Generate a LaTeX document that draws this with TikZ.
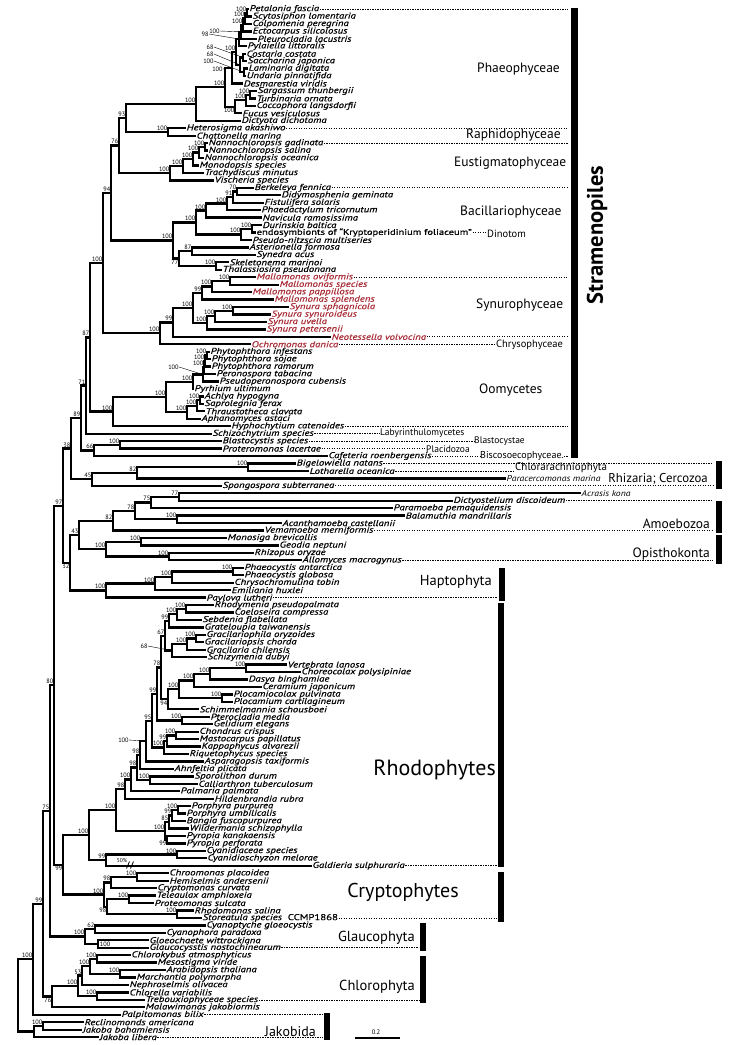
\documentclass[tikz,border=0pt]{standalone}
\usepackage{fontspec}
\setmainfont{PT Sans}
\newfontfamily\lfont{PT Sans}[FakeBold=0.6,FakeStretch=1.27]
\newfontfamily\tfont{PT Sans}[FakeStretch=1.14]
\usetikzlibrary{calc}
\definecolor{synred}{RGB}{168,44,54}
\tikzset{
  br/.style={line width=2.3bp},
  leaf/.style={anchor=west,inner sep=0.5bp,font=\fontsize{8.5bp}{8.5bp}\lfont\itshape},
  thin/.style={font=\fontsize{8.5bp}{8.5bp}\tfont\itshape},
  bs/.style={inner sep=0.2bp,font=\fontsize{6.3bp}{6.3bp}\selectfont},
  lb/.style={anchor=north east,xshift=-0.3bp,yshift=-1.1bp},
  ldr/.style={line width=0.4bp},
  dotl/.style={line width=0.7bp,dash pattern=on 1.2bp off 1.3bp},
  grp/.style={inner sep=0pt,font=\fontsize{13.5bp}{13.5bp}\selectfont},
  sgrp/.style={inner sep=0pt,font=\fontsize{9.5bp}{9.5bp}\selectfont},
  mgrp/.style={inner sep=0pt,font=\fontsize{10.5bp}{10.5bp}\selectfont},
}
\newcommand\lf[5][]{\node[leaf,#1] (#2) at (#3,{9+7.45*#4}) {#5};}
\newcommand\J[6][anchor=south east,xshift=-0.3bp,yshift=1.1bp]{%
  \path let \p1=($(#4)!.5!(#5)$) in (#3bp,\y1) coordinate (#2);
  \draw[br] (#4) -| (#2) |- (#5);
  \node[bs,#1] at (#2) {#6};}
\newcommand\dl[2]{\draw[dotl] (#1.east) -- (#1.east -| #2);}
\begin{document}
\begin{tikzpicture}[x=1bp,y=-1bp]
\useasboundingbox (0,0) rectangle (731,1045);
% ---------------- leaves
\lf{L0}{249}{0}{Petalonia fascia}
\lf{L1}{252}{1}{Scytosiphon lomentaria}
\lf{L2}{252}{2}{Colpomenia peregrina}
\lf{L3}{252}{3}{Ectocarpus silicolosus}
\lf{L4}{257}{4}{Pleurocladia lacustris}
\lf{L5}{247}{5}{Pylaiella littoralis}
\lf{L6}{246}{6}{Costaria costata}
\lf{L7}{247}{7}{Saccharina japonica}
\lf{L8}{248}{8}{Laminaria digitata}
\lf{L9}{246}{9}{Undaria pinnatifida}
\lf{L10}{243}{10}{Desmarestia viridis}
\lf{L11}{257}{11}{Sargassum thunbergii}
\lf{L12}{256}{12}{Turbinaria ornata}
\lf{L13}{256}{13}{Coccophora langsdorfii}
\lf{L14}{242}{14}{Fucus vesiculosus}
\lf{L15}{241}{15}{Dictyota dichotoma}
\lf{L16}{186}{16}{Heterosigma akashiwo}
\lf{L17}{196}{17}{Chattonella marina}
\lf{L18}{208}{18}{Nannochloropsis gadinata}
\lf{L19}{208}{19}{Nannochloropsis salina}
\lf{L20}{204}{20}{Nannochloropsis oceanica}
\lf{L21}{199}{21}{Monodopsis species}
\lf{L22}{204}{22}{Trachydiscus minutus}
\lf{L23}{214}{23}{Vischeria species}
\lf{L24}{254}{24}{Berkeleya fennica}
\lf{L25}{281}{25}{Didymosphenia geminata}
\lf{L26}{264}{26}{Fistulifera solaris}
\lf{L27}{261}{27}{Phaedactylum tricornutum}
\lf{L28}{262}{28}{Navicula ramosissima}
\lf{L29}{262}{29}{Durinskia baltica}
\lf[font=\fontsize{8.3bp}{8.3bp}\lfont]{L30}{256}{30}{endosymbionts of “Kryptoperidinium foliaceum”}
\lf{L31}{252}{31}{Pseudo-nitzscia multiseries}
\lf{L32}{249}{32}{Asterionella formosa}
\lf{L33}{256}{33}{Synedra acus}
\lf{L34}{229}{34}{Skeletonema marinoi}
\lf{L35}{222}{35}{Thalassiosira pseudonana}
\lf[text=synred]{L36}{256}{36}{Mallomonas oviformis}
\lf[text=synred]{L37}{279}{37}{Mallomonas species}
\lf[text=synred]{L38}{252}{38}{Mallomonas pappillosa}
\lf[text=synred]{L39}{274}{39}{Mallomonas splendens}
\lf[text=synred]{L40}{289}{40}{Synura sphagnicola}
\lf[text=synred]{L41}{271}{41}{Synura synuroideus}
\lf[text=synred]{L42}{267}{42}{Synura uvella}
\lf[text=synred]{L43}{266}{43}{Synura petersenii}
\lf[text=synred]{L44}{331}{44}{Neotessella volvocina}
\lf[text=synred]{L45}{251}{45}{Ochromonas danica}
\lf{L46}{210}{46}{Phytophthora infestans}
\lf{L47}{211}{47}{Phytophthora sojae}
\lf{L48}{211}{48}{Phytophthora ramorum}
\lf{L49}{216}{49}{Peronospora tabacina}
\lf{L50}{219}{50}{Pseudoperonospora cubensis}
\lf{L51}{194}{51}{Pyrhium ultimum}
\lf{L52}{204}{52}{Achlya hypogyna}
\lf{L53}{204}{53}{Saprolegnia ferax}
\lf{L54}{205}{54}{Thraustotheca clavata}
\lf{L55}{201}{55}{Aphanomyces astaci}
\lf{L56}{231}{56}{Hyphochytium catenoides}
\lf{L57}{212}{57}{Schizochytrium species}
\lf{L58}{222}{58}{Blastocystis species}
\lf{L59}{222}{59}{Proteromonas lacertae}
\lf{L60}{328}{60}{Cafeteria roenbergensis}
\lf{L61}{296}{61}{Bigelowiella natans}
\lf{L62}{309}{62}{Lotharella oceanica}
\lf[thin]{L63}{506}{63}{Paracercomonas marina}
\lf{L64}{222}{64}{Spongospora subterranea}
\lf[thin]{L65}{581}{65}{Acrasis kona}
\lf{L66}{453}{66}{Dictyostelium discoideum}
\lf{L67}{393}{67}{Paramoeba pemaquidensis}
\lf{L68}{405}{68}{Balamuthia mandrillaris}
\lf{L69}{282}{69}{Acanthamoeba castellanii}
\lf{L70}{264}{70}{Vemamoeba merniformis}
\lf{L71}{227}{71}{Monosiga brevicollis}
\lf{L72}{279}{72}{Geodia neptuni}
\lf{L73}{254}{73}{Rhizopus oryzae}
\lf{L74}{302}{74}{Allomyces macrogynus}
\lf{L75}{244}{75}{Phaeocystis antarctica}
\lf{L76}{244}{76}{Phaeocystis globosa}
\lf{L77}{234}{77}{Chrysochromulina tobin}
\lf{L78}{231}{78}{Emiliania huxlei}
\lf{L79}{206}{79}{Pavlova lutheri}
\lf{L80}{214}{80}{Rhodymenia pseudopalmata}
\lf{L81}{234}{81}{Coeloseira compressa}
\lf{L82}{202}{82}{Sebdenia flabellata}
\lf{L83}{204}{83}{Grateloupia taiwanensis}
\lf{L84}{206}{84}{Gracilariophila oryzoides}
\lf{L85}{204}{85}{Gracilariopsis chorda}
\lf{L86}{206}{86}{Gracilaria chilensis}
\lf{L87}{207}{87}{Schizymenia dubyi}
\lf{L88}{287}{88}{Vertebrata lanosa}
\lf{L89}{301}{89}{Choreocolax polysipiniae}
\lf{L90}{248}{90}{Dasya binghamiae}
\lf{L91}{262}{91}{Ceramium japonicum}
\lf{L92}{233}{92}{Plocamiocolax pulvinata}
\lf{L93}{233}{93}{Plocamium cartilagineum}
\lf{L94}{199}{94}{Schimmelmannia schousboei}
\lf{L95}{210}{95}{Pterocladia media}
\lf{L96}{213}{96}{Gelidium elegans}
\lf{L97}{199}{97}{Chondrus crispus}
\lf{L98}{199}{98}{Mastocarpus papillatus}
\lf{L99}{201}{99}{Kappaphycus alvarezii}
\lf{L100}{189}{100}{Riquetophycus species}
\lf{L101}{204}{101}{Asparagopsis taxiformis}
\lf{L102}{174}{102}{Ahnfeltia plicata}
\lf{L103}{194}{103}{Sporolithon durum}
\lf{L104}{198}{104}{Calliarthron tuberculosum}
\lf{L105}{180}{105}{Palmaria palmata}
\lf{L106}{214}{106}{Hildenbrandia rubra}
\lf{L107}{191}{107}{Porphyra purpurea}
\lf{L108}{186}{108}{Porphyra umbilicalis}
\lf{L109}{186}{109}{Bangia fuscopurpurea}
\lf{L110}{189}{110}{Wildermania schizophylla}
\lf{L111}{186}{111}{Pyropia kanakaensis}
\lf{L112}{186}{112}{Pyropia perforata}
\lf{L113}{206}{113}{Cyanidiaceae species}
\lf{L114}{207}{114}{Cyanidioschyzon melorae}
\lf{L115}{312}{115}{Galdieria sulphuraria}
\lf{L116}{169}{116}{Chroomonas placoidea}
\lf{L117}{169}{117}{Hemiselmis andersenii}
\lf{L118}{157}{118}{Cryptomonas curvata}
\lf{L119}{156}{119}{Teleaulax amphioxeia}
\lf{L120}{154}{120}{Proteomonas sulcata}
\lf{L121}{194}{121}{Rhodomonas salina}
\lf{L122}{202}{122}{Storeatula species\ \ \upshape CCMP1868}
\lf{L123}{206}{123}{Cyanoptyche gloeocystis}
\lf{L124}{166}{124}{Cyanophora paradoxa}
\lf{L125}{149}{125}{Gloeochaete wittrockiana}
\lf{L126}{149}{126}{Glaucocysstis nostochinearum}
\lf{L127}{131}{127}{Chlorokybus atmosphyticus}
\lf{L128}{157}{128}{Mesostigma viride}
\lf{L129}{166}{129}{Arabidopsis thaliana}
\lf{L130}{136}{130}{Marchantia polymorpha}
\lf{L131}{129}{131}{Nephroselmis olivacea}
\lf{L132}{129}{132}{Chlorella variabilis}
\lf{L133}{145}{133}{Trebouxiophyceae species}
\lf{L134}{145}{134}{Malawimonas jakobiormis}
\lf{L135}{121}{135}{Palpitomonas bilix}
\lf{L136}{84}{136}{Reclinomonds americana}
\lf{L137}{82}{137}{Jakoba bahamiensis}
\lf{L138}{99}{138}{Jakoba libera}
% ---------------- Phaeophyceae / Raphidophyceae
\J{ps}{247}{L0}{L1}{100}
\J{psc}{245}{ps}{L2}{100}
\J{pse}{243}{psc}{L3}{100}
\J{psep}{241}{pse}{L4}{}
\J{ect}{239}{psep}{L5}{}
\J{cs}{243}{L6}{L7}{}
\J{lu}{244}{L8}{L9}{}
\J{lam}{240}{cs}{lu}{}
\J{ecl}{236}{ect}{lam}{100}
\J{ecld}{232}{ecl}{L10}{}
\J{ST}{250}{L11}{L12}{100}
\J{STC}{246}{ST}{L13}{100}
\J[lb]{Fu}{235}{STC}{L14}{100}
\J{crown}{225}{ecld}{Fu}{100}
\J{phaeo}{196}{crown}{L15}{100}
\J{raph}{168}{L16}{L17}{100}
\J{n93}{126}{phaeo}{raph}{93}
\node[bs,anchor=east] (q1) at (220,31) {100}; \draw[ldr] (q1.east) -- (psep);
\node[bs,anchor=east] (q2) at (209,34) {98};  \draw[ldr] (q2.east) -- (ect);
\node[bs,anchor=east] (q3) at (214,47) {68};  \draw[ldr] (q3.east) -- (cs);
\node[bs,anchor=east] (q4) at (214,54) {68};  \draw[ldr] (q4.east) -- (lam);
\node[bs,anchor=east] (q5) at (214,61) {100}; \draw[ldr] (q5.east) -- (lu);
\node[bs,anchor=east] (q6) at (223,69) {100}; \draw[ldr] (q6.east) -- (ecld);
% ---------------- Eustigmatophyceae
\J{ng}{205}{L18}{L19}{100}
\J{ngo}{199}{ng}{L20}{100}
\J{ngm}{193}{ngo}{L21}{100}
\J{ngt}{183}{ngm}{L22}{100}
\J{eus}{170}{ngt}{L23}{100}
\J{n76}{119}{n93}{eus}{76}
% ---------------- Bacillariophyceae
\J{Be}{237}{L24}{L25}{70}
\J{Fi}{233}{Be}{L26}{91}
\J{Phd}{227}{Fi}{L27}{100}
\J{Na}{206}{Phd}{L28}{100}
\J{Du}{252}{L29}{L30}{100}
\J{Psn}{241}{Du}{L31}{100}
\J{Pen}{196}{Na}{Psn}{100}
\J{Ast}{192}{L32}{L33}{87}
\J{Ske}{216}{L34}{L35}{100}
\J[lb]{Cen}{179}{Ast}{Ske}{77}
\J{Dia}{173}{Pen}{Cen}{100}
\J{n94}{111}{n76}{Dia}{94}
% ---------------- Synurophyceae / Chrysophyceae
\J{Mo}{230}{L36}{L37}{100}
\J{Mp}{212}{Mo}{L38}{100}
\J{Mspl}{202}{Mp}{L39}{99}
\J{Ss}{233}{L40}{L41}{100}
\J{Su}{215}{Ss}{L42}{100}
\J{Sp}{207}{Su}{L43}{100}
\J{MSyn}{193}{Mspl}{Sp}{100}
\J{N99}{173}{MSyn}{L44}{99}
\J{Chry}{160}{N99}{L45}{100}
\J{n100s}{103}{n94}{Chry}{100}
% ---------------- Oomycetes
\J{Po1}{207}{L46}{L47}{100}
\J{Po2}{205}{Po1}{L48}{100}
\J{Po3}{204}{Po2}{L49}{100}
\J{Po4}{203}{Po3}{L50}{}
\J{Po5}{193}{Po4}{L51}{100}
\J{Sap1}{200}{L52}{L53}{100}
\J{Sap2}{197}{Sap1}{L54}{100}
\J{Sap3}{187}{Sap2}{L55}{100}
\J{Oomy}{166}{Po5}{Sap3}{100}
\J{OomyR}{113}{Oomy}{L56}{100}
\node[bs,anchor=east] (q7) at (179,367) {100}; \draw[ldr] (q7.east) -- (Po4);
\J{n87}{90}{n100s}{OomyR}{87}
\J{n71}{86}{n87}{L57}{71}
\J{BP}{120}{L58}{L59}{100}
\J{n66}{94}{BP}{L60}{66}
\J{n89}{81}{n71}{n66}{89}
% ---------------- Rhizaria
\J{BL}{248}{L61}{L62}{100}
\J{R82}{137}{BL}{L63}{82}
\J{R45}{92}{R82}{L64}{45}
\J{n38}{71}{n89}{R45}{38}
% ---------------- Amoebozoa / Opisthokonta / Haptophyta
\J{Ad}{179}{L65}{L66}{77}
\J{A75}{151}{Ad}{L67}{75}
\J{Ab}{177}{L68}{L69}{100}
\J{A78}{135}{A75}{Ab}{78}
\J{A82}{113}{A78}{L70}{82}
\J{MG}{141}{L71}{L72}{100}
\J{RA}{169}{L73}{L74}{100}
\J{Op}{106}{MG}{RA}{100}
\J{n43}{79}{A82}{Op}{43}
\J{Pc}{233}{L75}{L76}{100}
\J{Chr}{172}{Pc}{L77}{100}
\J{Em}{155}{Chr}{L78}{100}
\J{Hap}{106}{Em}{L79}{100}
\J[lb]{n32}{70}{n43}{Hap}{32}
\J{n97}{63}{n38}{n32}{97}
% ---------------- Rhodophytes
\J{A1}{186}{L80}{L81}{100}
\J{A2}{177}{A1}{L82}{100}
\J{A3}{169}{A2}{L83}{99}
\J{B1}{196}{L84}{L85}{100}
\J{B2}{187}{B1}{L86}{100}
\J{B3}{172}{B2}{L87}{}
\J{D}{165}{A3}{B3}{67}
\J{E1}{246}{L88}{L89}{100}
\J{E2}{210}{E1}{L90}{100}
\J{E3}{194}{E2}{L91}{100}
\J{E4}{222}{L92}{L93}{100}
\J{E5}{179}{E3}{E4}{100}
\J[lb]{E6}{168}{E5}{L94}{94}
\J{F}{161}{D}{E6}{78}
\J{Ge}{182}{L95}{L96}{100}
\J{G}{157}{F}{Ge}{99}
\J{H1}{176}{L97}{L98}{100}
\J{H2}{167}{H1}{L99}{99}
\J{H3}{164}{H2}{L100}{100}
\J{I}{152}{G}{H3}{95}
\J{Jn}{146}{I}{L101}{}
\J{K}{140}{Jn}{L102}{98}
\J{Sc}{150}{L103}{L104}{100}
\J{Kx}{137}{K}{Sc}{98}
\J{Lp}{131}{Kx}{L105}{100}
\J{N}{125}{Lp}{L106}{98}
\J{Bp1}{178}{L107}{L108}{100}
\J{Bp2}{172}{Bp1}{L109}{99}
\J{Bp3}{169}{Bp2}{L110}{85}
\J[lb]{Py}{167}{L111}{L112}{99}
\J{Bang}{165}{Bp3}{Py}{100}
\J{O}{116}{N}{Bang}{100}
\J{Cy}{177}{L113}{L114}{100}
\J{Cyd}{106}{Cy}{L115}{99}
\J{Rh}{89}{O}{Cyd}{100}
\node[bs,anchor=east] (q8) at (148,646) {68};  \draw[ldr] (q8.east) -- (B3);
\node[bs,anchor=east] (q9) at (129,740) {100}; \draw[ldr] (q9.east) -- (Jn);
\node[bs,font=\fontsize{5.5bp}{5.5bp}\selectfont] (q10) at (122,860.5) {50\%};
\draw[line width=0.8bp] (126.5,868.5) -- (129.5,861.5) (130.5,868.5) -- (133.5,861.5);
% ---------------- Cryptophytes
\J{Cr1}{137}{L116}{L117}{100}
\J{Cr2}{111}{Cr1}{L118}{98}
\J{Cr3}{129}{L119}{L120}{100}
\J{Cr4}{177}{L121}{L122}{100}
\J[lb]{Cr5}{107}{Cr3}{Cr4}{98}
\J{CrR}{104}{Cr2}{Cr5}{100}
\J[lb]{n99r}{63}{Rh}{CrR}{99}
\J{n80}{54}{n97}{n99r}{80}
% ---------------- Glaucophyta / Chlorophyta / Jakobida
\J{Gl62}{95}{L123}{L124}{62}
\J[anchor=west,xshift=1.5bp]{Gl2}{98}{L125}{L126}{100}
\J{Gla}{85}{Gl62}{Gl2}{100}
\J{n75}{50}{n80}{Gla}{75}
\J{Ck}{97}{L127}{L128}{100}
\J{Am}{120}{L129}{L130}{100}
\J{Str}{90}{Ck}{Am}{100}
\J{Ne}{82}{Str}{L131}{53}
\J{Ct}{97}{L132}{L133}{100}
\J{Chl}{78}{Ne}{Ct}{100}
\J[lb]{M76}{52}{Chl}{L134}{76}
\J{n99b}{43}{n75}{M76}{99}
\J{n100b}{33}{n99b}{L135}{100}
\J{Rb}{43}{L136}{L137}{100}
\J{Jk}{34}{Rb}{L138}{}
\J{root}{18}{n100b}{Jk}{}
% ---------------- group labels
\coordinate (eS) at (568,0);
\coordinate (eR) at (713,0);
\coordinate (eH) at (497,0);
\coordinate (eG) at (419,0);
\coordinate (eJ) at (323,0);
\node[grp,anchor=west] (gPh) at (477,69) {Phaeophyceae};
\node[grp,anchor=west] (gRa) at (466,135) {Raphidophyceae};
\node[grp,anchor=west] (gEu) at (454,163) {Eustigmatophyceae};
\node[grp,anchor=west] (gBa) at (460,212) {Bacillariophyceae};
\node[mgrp,anchor=west] (gDi) at (487,233.5) {Dinotom};
\node[grp,anchor=west] (gSy) at (476,305) {Synurophyceae};
\node[mgrp,anchor=west] (gCh) at (496,344.5) {Chrysophyceae};
\node[grp,anchor=west] (gOo) at (479,390) {Oomycetes};
\node[sgrp,anchor=west] (gLa) at (380,433.5) {Labyrinthulomycetes};
\node[sgrp,anchor=west] (gBl) at (474,441.5) {Blastocystae};
\node[sgrp,anchor=west] (gPl) at (426,449) {Placidozoa};
\node[sgrp,font=\fontsize{10bp}{10bp}\selectfont,anchor=west] (gBi) at (480,456) {Biscosoecophyceae.};
\node[inner sep=0pt,font=\fontsize{11bp}{11bp}\selectfont,anchor=west] (gCl) at (515,468) {Chlorarachniophyta};
\node[grp,font=\fontsize{12.8bp}{12.8bp}\selectfont,anchor=east] (gRh) at (708,479) {Rhizaria; Cercozoa};
\node[grp,anchor=east] (gAm) at (710,524) {Amoebozoa};
\node[grp,anchor=east] (gOp) at (710,554) {Opisthokonta};
\node[grp,font=\fontsize{14.5bp}{14.5bp}\selectfont,anchor=east] (gHa) at (492,582) {Haptophyta};
\node[inner sep=0pt,font=\fontsize{22bp}{22bp}\selectfont,anchor=east] (gRo) at (496,770) {Rhodophytes};
\node[inner sep=0pt,font=\fontsize{20bp}{20bp}\selectfont,anchor=east] (gCr) at (459,892) {Cryptophytes};
\node[grp,font=\fontsize{14.5bp}{14.5bp}\selectfont,anchor=east] (gGl) at (415,938) {Glaucophyta};
\node[grp,font=\fontsize{14.5bp}{14.5bp}\selectfont,anchor=east] (gCp) at (415,987) {Chlorophyta};
\node[inner sep=0pt,font=\fontsize{14bp}{14bp}\selectfont,anchor=east] (gJa) at (316,1032) {Jakobida};
\node[rotate=90,inner sep=0pt,font=\fontsize{22.5bp}{22.5bp}\selectfont\bfseries] (gSt) at (597,235) {Stramenopiles};
% ---------------- dotted separators
\dl{L0}{eS} \dl{L16}{eS} \dl{L18}{eS} \dl{L24}{eS} \dl{L36}{eS} \dl{L44}{eS} \dl{L56}{eS}
\dl{L30}{gDi.west} \dl{L45}{gCh.west}
\dl{L57}{gLa.west} \dl{L58}{gBl.west} \dl{L59}{gPl.west} \dl{L60}{gBi.west} \dl{gBi}{eS}
\dl{L61}{eR} \dl{L62}{gCl.west} \dl{L64}{eR} \dl{L66}{eR} \dl{L70}{eR} \dl{L74}{eR}
\dl{L79}{eH} \dl{L115}{eH} \dl{L122}{eH}
\dl{L126}{eG} \dl{L133}{eG}
\dl{L135}{eJ} \dl{L138}{eJ}
% ---------------- bars
\fill (571,8) rectangle (578,458);
\fill (716,461) rectangle (722,489);
\fill (716,501) rectangle (722,533);
\fill (716,535) rectangle (722,564);
\fill (499,568) rectangle (505,601);
\fill (498,603) rectangle (504,867);
\fill (498,872) rectangle (504,922);
\fill (420,923) rectangle (426,951);
\fill (420,956) rectangle (426,1003);
\fill (324,1013) rectangle (330,1040);
% ---------------- scale bar
\coordinate (sb1) at (355,1038);
\coordinate (sb2) at (400,1038);
\draw[line width=1.5bp] (sb1) -- (sb2);
\node[bs,font=\fontsize{6.5bp}{6.5bp}\selectfont] (sbl) at (376,1032) {0.2};
\end{tikzpicture}
\end{document}
